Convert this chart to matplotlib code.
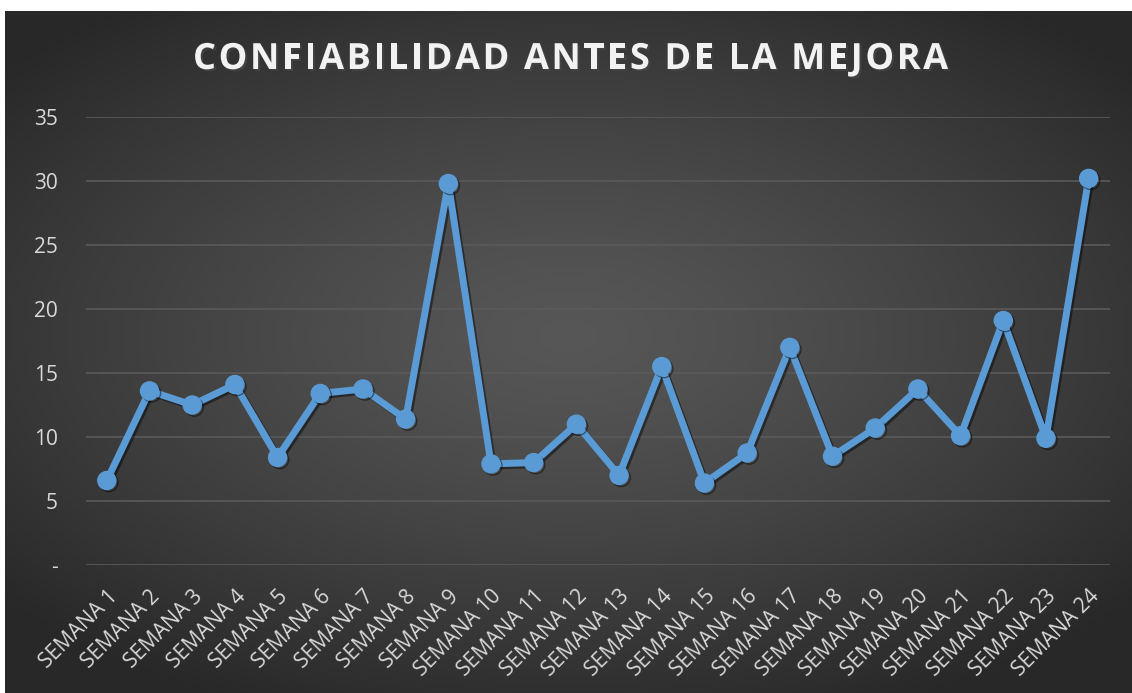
import numpy as np
import matplotlib
matplotlib.use("Agg")
import matplotlib.pyplot as plt
import matplotlib.patheffects as pe
from matplotlib.font_manager import FontProperties

# ---------------------------------------------------------------------------
# Data
# ---------------------------------------------------------------------------
semanas = [f"SEMANA {i}" for i in range(1, 25)]
confiabilidad = [6.6, 13.6, 12.5, 14.1, 8.4, 13.4, 13.75, 11.4, 29.8, 7.9,
                 8.0, 11.0, 7.0, 15.5, 6.4, 8.75, 17.0, 8.5, 10.7, 13.75,
                 10.1, 19.1, 9.9, 30.2]
y_ticks = [0, 5, 10, 15, 20, 25, 30, 35]
y_labels = ["-", "5", "10", "15", "20", "25", "30", "35"]
TITLE = "CONFIABILIDAD ANTES DE LA MEJORA"

C_LINE = "#5B9BD5"
C_TEXT = "#D9D9D9"
C_GRID = "#5A5A5A"
FONT = "Open Sans"

W, H = 1132, 693
fig = plt.figure(figsize=(W / 100, H / 100), dpi=100, facecolor="white")

# dark radial-gradient background for the chart area
x0 = 5 / W
bg = fig.add_axes([x0, 0, 1 - x0, 1 - 11 / H], zorder=0)
gx, gy = np.meshgrid(np.linspace(-1, 1, 600), np.linspace(-1, 1, 400))
r = np.clip(np.sqrt((gx * 0.95) ** 2 + (gy * 1.05 + 0.05) ** 2), 0, 1.25)
shade = 0.34 - 0.18 * (r / 1.25) ** 1.3
img = np.dstack([shade, shade, shade])
bg.imshow(img, aspect="auto", extent=[0, 1, 0, 1], interpolation="bilinear")
bg.axis("off")

# plot area
L, R = 85.5 / W, 1110 / W
B, T = 1 - 565 / H, 1 - 117 / H
ax = fig.add_axes([L, B, R - L, T - B], zorder=1)
ax.set_facecolor("none")

xs = np.arange(len(semanas))
shadow = [pe.SimpleLineShadow(offset=(1.5, -1.5), shadow_color="black", alpha=0.45),
          pe.Normal()]
ax.plot(xs, confiabilidad, color=C_LINE, linewidth=5, marker="o",
        markersize=13, markerfacecolor=C_LINE, markeredgecolor=C_LINE,
        solid_joinstyle="round", path_effects=shadow, zorder=3, clip_on=False)

ax.set_xlim(-0.5, len(semanas) - 0.5)
ax.set_ylim(0, 35)
ax.set_yticks(y_ticks)
ax.set_yticklabels(y_labels)
ax.set_xticks(xs)
ax.set_xticklabels(semanas, rotation=45, ha="right", rotation_mode="anchor")
ax.grid(axis="y", color=C_GRID, linewidth=1.2)
ax.set_axisbelow(True)
for s in ax.spines.values():
    s.set_visible(False)
ax.tick_params(axis="both", length=0, colors=C_TEXT)
ax.tick_params(axis="y", pad=20, labelsize=15)
ax.tick_params(axis="x", pad=15, labelsize=15)
for lab in ax.get_xticklabels() + ax.get_yticklabels():
    lab.set_fontfamily(FONT)
    lab.set_color(C_TEXT)

# title with letter spacing, drawn char by char
renderer = fig.canvas.get_renderer()
fp = FontProperties(family=FONT, weight="bold", size=26)
widths = [renderer.get_text_width_height_descent(ch, fp, ismath=False)[0]
          for ch in TITLE]
t_left, t_right = 193, 948
gap = ((t_right - t_left) - sum(widths)) / (len(TITLE) - 1)
cur = t_left
for ch, w in zip(TITLE, widths):
    if ch != " ":
        fig.text(cur / W, 1 - 60 / H, ch, ha="left", va="center",
                 fontproperties=fp, color="#F2F2F2",
                 path_effects=[pe.withSimplePatchShadow(offset=(1.5, -1.5),
                                                        alpha=0.6)])
    cur += w + gap

fig.savefig("out.png", dpi=100, facecolor="white")
